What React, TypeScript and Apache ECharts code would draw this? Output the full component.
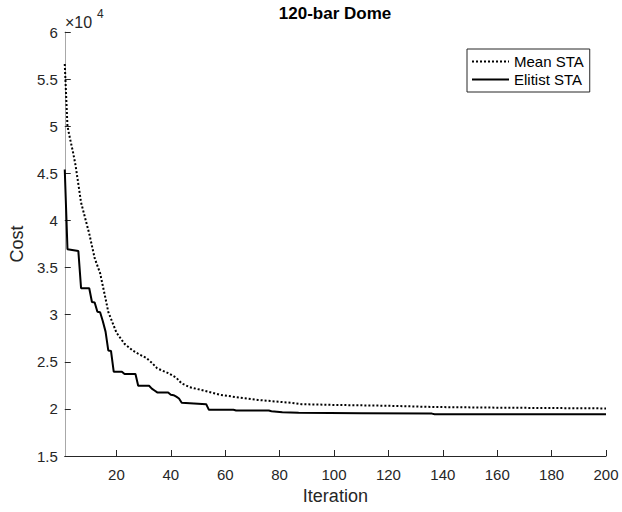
import React, { useEffect, useRef } from "react";
import * as echarts from "echarts";

const chartTitle = "120-bar Dome";
const seriesNames = ["Mean STA", "Elitist STA"];

const meanIter = [1, 2, 3, 4, 5, 7, 10, 12, 14, 16, 17, 20, 23, 26, 28, 31, 33, 35, 39, 42, 44, 47, 52, 58, 64, 72, 80, 84, 88, 100, 120, 137, 160, 200];
const meanCost = [56600, 50000, 48600, 47300, 45800, 41900, 38600, 36000, 34400, 31700, 30300, 28100, 26900, 26200, 25850, 25400, 24900, 24300, 23800, 23300, 22700, 22300, 21950, 21500, 21250, 20950, 20750, 20650, 20500, 20420, 20330, 20200, 20130, 20050];

const eliteIter = [1, 2, 6, 7, 10, 11, 12, 13, 14, 15, 16, 17, 18, 19, 22, 23, 27, 28, 32, 33, 34, 35, 39, 40, 41, 42, 43, 44, 53, 54, 63, 64, 76, 77, 81, 87, 110, 136, 137, 200];
const eliteCost = [45400, 36950, 36750, 32800, 32800, 31350, 31300, 30300, 30250, 29300, 28200, 26200, 26150, 23950, 23950, 23700, 23700, 22450, 22450, 22150, 21950, 21750, 21750, 21500, 21450, 21300, 21100, 20650, 20500, 19900, 19900, 19830, 19830, 19750, 19650, 19580, 19550, 19500, 19430, 19420];

const xTicks = [20, 40, 60, 80, 100, 120, 140, 160, 180, 200];
const yMin = 15000;
const yMax = 60000;
const yStep = 5000;
const xLabel = "Iteration";
const yLabel = "Cost";

const FONT = '"Liberation Sans", Arial, Helvetica, sans-serif';
const TXT = "#262626";

export default function App() {
  const ref = useRef<HTMLDivElement>(null);
  useEffect(() => {
    if (!ref.current) return;
    const chart = echarts.init(ref.current, null, { renderer: "svg" });
    const meanData = meanIter.map((x, i) => [x, meanCost[i]]);
    const eliteData = eliteIter.map((x, i) => [x, eliteCost[i]]);
    chart.setOption({
      animation: false,
      backgroundColor: "#ffffff",
      textStyle: { fontFamily: FONT },
      grid: { left: 64, right: 16, top: 32, bottom: 56, containLabel: false },
      legend: {
        orient: "vertical",
        left: 467,
        top: 49,
        data: seriesNames,
        borderColor: TXT,
        borderWidth: 1,
        padding: [5, 6, 5, 4],
        itemWidth: 37,
        itemHeight: 14,
        itemGap: 3,
        itemStyle: { color: "rgba(0,0,0,0)", borderWidth: 0, opacity: 0 },
        textStyle: { fontSize: 15, color: "#000", fontFamily: FONT },
        backgroundColor: "#fff",
      },
      xAxis: {
        type: "value",
        min: 1,
        max: 200,
        name: xLabel,
        nameLocation: "middle",
        nameGap: 31,
        nameTextStyle: { fontSize: 18, color: TXT, fontFamily: FONT },
        axisLine: { show: true, onZero: false, lineStyle: { color: TXT, width: 1 } },
        axisTick: { show: true, inside: true, length: 6, customValues: xTicks, lineStyle: { color: TXT } },
        axisLabel: { customValues: xTicks, fontSize: 15, color: TXT, margin: 11, fontFamily: FONT },
        splitLine: { show: false },
      },
      yAxis: {
        type: "value",
        min: yMin,
        max: yMax,
        interval: yStep,
        name: yLabel,
        nameLocation: "middle",
        nameGap: 37,
        nameTextStyle: { fontSize: 18, color: TXT, fontFamily: FONT },
        axisLine: { show: true, onZero: false, lineStyle: { color: "#a8a8a8", width: 1 } },
        axisTick: { show: true, inside: true, length: 6, lineStyle: { color: TXT } },
        axisLabel: {
          fontSize: 15,
          color: TXT,
          margin: 7,
          fontFamily: FONT,
          formatter: (v: number) => String(Math.round(v / 1000) / 10),
        },
        splitLine: { show: false },
      },
      graphic: [
        {
          type: "text",
          x: 335,
          y: 13,
          style: {
            text: chartTitle,
            fontSize: 17,
            fontWeight: "bold",
            fontFamily: FONT,
            fill: "#000",
            align: "center",
            verticalAlign: "middle",
          },
        },
        {
          type: "text",
          x: 65,
          y: 30,
          style: {
            text: "×10",
            fontSize: 16,
            fontFamily: FONT,
            fill: TXT,
            align: "left",
            verticalAlign: "bottom",
          },
        },
        {
          type: "text",
          x: 97,
          y: 20,
          style: {
            text: "4",
            fontSize: 12,
            fontFamily: FONT,
            fill: TXT,
            align: "left",
            verticalAlign: "bottom",
          },
        },
      ],
      series: [
        {
          name: seriesNames[0],
          type: "line",
          data: meanData,
          symbol: "none",
          lineStyle: { color: "#000", width: 2, type: [2, 2] },
          itemStyle: { color: "#000" },
          z: 2,
        },
        {
          name: seriesNames[1],
          type: "line",
          data: eliteData,
          symbol: "none",
          lineStyle: { color: "#000", width: 2, type: "solid" },
          itemStyle: { color: "#000" },
          z: 3,
        },
      ],
    });
    return () => chart.dispose();
  }, []);
  return (
    <div
      ref={ref}
      style={{ position: "fixed", left: 0, top: 0, width: 622, height: 512, background: "#fff" }}
    />
  );
}
